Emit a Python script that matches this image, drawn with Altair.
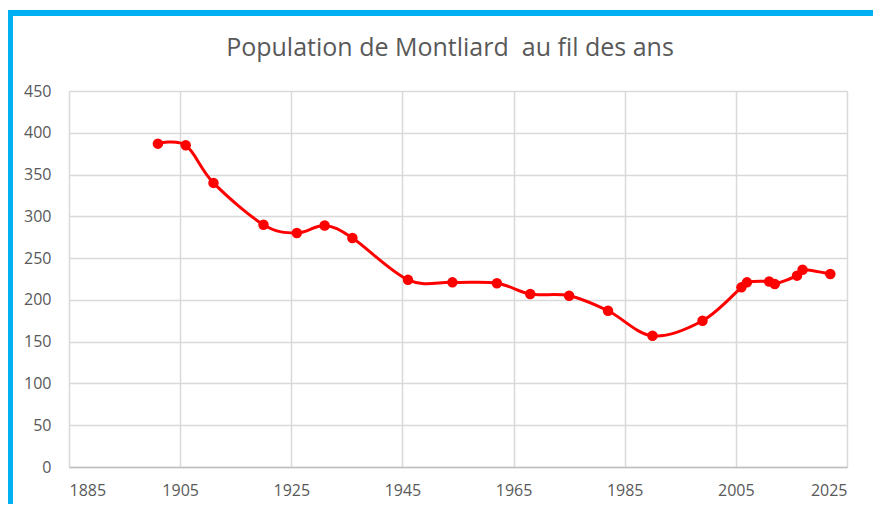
import altair as alt
import pandas as pd

years = [1901, 1906, 1911, 1920, 1926, 1931, 1936, 1946, 1954, 1962, 1968, 1975,
         1982, 1990, 1999, 2006, 2007, 2011, 2012, 2016, 2017, 2022]
population = [387, 385, 340, 290, 280, 289, 274, 224, 221, 220, 207, 205,
              187, 157, 175, 215, 221, 222, 219, 229, 236, 231]
x_ticks = [1885, 1905, 1925, 1945, 1965, 1985, 2005, 2025]
y_ticks = [0, 50, 100, 150, 200, 250, 300, 350, 400, 450]
title_text = "Population de Montliard \u00a0au fil des ans"

df = pd.DataFrame({"annee": years, "population": population})

FONT = "Open Sans"
GREY = "#595959"

x_enc = alt.X("annee:Q",
              scale=alt.Scale(domain=[1885, 2025], nice=False, zero=False),
              axis=alt.Axis(values=x_ticks, format="d", title=None, grid=True,
                            gridColor="#d9d9d9", gridWidth=1.5, domain=True,
                            domainColor="#bfbfbf", domainWidth=1.5, ticks=False,
                            labelPadding=15, labelFontSize=16, labelColor=GREY,
                            labelFont=FONT))
y_enc = alt.Y("population:Q",
              scale=alt.Scale(domain=[0, 450], nice=False),
              axis=alt.Axis(values=y_ticks, title=None, grid=True,
                            gridColor="#d9d9d9", gridWidth=1.5, domain=False,
                            ticks=False, labelPadding=18, labelFontSize=16,
                            labelColor=GREY, labelFont=FONT))

base = alt.Chart(df)
line = base.mark_line(color="#ff0000", strokeWidth=3, interpolate="cardinal").encode(x=x_enc, y=y_enc)
points = base.mark_circle(color="#ff0000", size=110, opacity=1).encode(x="annee:Q", y="population:Q")

deco = pd.DataFrame({"t": [title_text]})
frame_left = alt.Chart(deco).mark_rule(color="#00b0f0", strokeWidth=7).encode(
    x=alt.value(-59.5), y=alt.value(-81), y2=alt.value(420))
frame_top = alt.Chart(deco).mark_rule(color="#00b0f0", strokeWidth=6).encode(
    x=alt.value(-63), x2=alt.value(820), y=alt.value(-78))
title = alt.Chart(deco).mark_text(font=FONT, fontSize=25, color=GREY, align="center",
                                  baseline="middle").encode(
    text="t:N", x=alt.value(381), y=alt.value(-43))

chart = alt.layer(frame_left, frame_top, title, line, points).properties(
    width=778,
    height=376,
    autosize=alt.AutoSizeParams(type="none"),
    padding={"left": 61, "top": 83, "right": 26, "bottom": 37},
).configure_view(stroke=None).configure(background="white")

chart.save("out.html", embed_options={"renderer": "svg", "actions": False})
